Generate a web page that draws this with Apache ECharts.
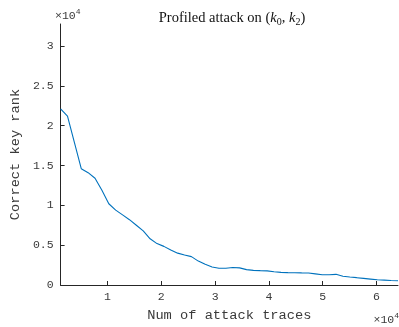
<!DOCTYPE html>
<html>
<head>
<meta charset="utf-8">
<script src="https://cdn.jsdelivr.net/npm/echarts@6/dist/echarts.min.js"></script>
<style>
  html, body { margin: 0; padding: 0; background: #fff; }
  #chart { width: 399px; height: 327px; }
</style>
</head>
<body>
<div id="chart"></div>
<script>
// number of attack traces (step 1280)
const traces = [
  1280, 2560, 3840, 5120, 6400, 7680, 8960, 10240, 11520, 12800,
  14080, 15360, 16640, 17920, 19200, 20480, 21760, 23040, 24320, 25600,
  26880, 28160, 29440, 30720, 32000, 33280, 34560, 35840, 37120, 38400,
  39680, 40960, 42240, 43520, 44800, 46080, 47360, 48640, 49920, 51200,
  52480, 53760, 55040, 56320, 57600, 58880, 60160, 61440, 62720, 64000
]
// correct key rank
const keyRank = [
  22100, 21200, 17900, 14600, 14100, 13400, 11900, 10200, 9400, 8800,
  8200, 7500, 6800, 5800, 5200, 4850, 4400, 4000, 3770, 3560,
  3000, 2600, 2270, 2110, 2100, 2200, 2150, 1930, 1840, 1800,
  1770, 1670, 1580, 1550, 1540, 1520, 1510, 1400, 1290, 1290,
  1340, 1100, 1000, 920, 830, 740, 650, 610, 560, 540
]
const xTicks = [10000, 20000, 30000, 40000, 50000, 60000]
const yTicks = [0, 5000, 10000, 15000, 20000, 25000, 30000]

const axisColor = '#262626'
const textColor = '#3a3a3a'
const mono = '"Liberation Mono", "DejaVu Sans Mono", monospace'
const serif = '"Liberation Serif", "DejaVu Serif", serif'

const chart = echarts.init(document.getElementById('chart'), null, { renderer: 'canvas' })

const option = {
  animation: false,
  backgroundColor: '#ffffff',
  title: {
    text: 'Profiled attack on ({k|k}{sub|0}, {k|k}{sub|2})',
    left: 227,
    top: 5,
    textAlign: 'center',
    textStyle: {
      fontFamily: serif,
      fontSize: 14.5,
      fontWeight: 'normal',
      color: '#111',
      rich: {
        k: { fontFamily: serif, fontSize: 14.5, fontStyle: 'italic', color: '#111' },
        sub: { fontFamily: serif, fontSize: 10, color: '#111', padding: [7, 0, 0, 0] }
      }
    }
  },
  grid: {
    left: 54,
    right: 1,
    top: 24,
    bottom: 36,
    containLabel: false
  },
  xAxis: {
    type: 'value',
    min: 1280,
    max: 64000,
    name: 'Num of attack traces',
    nameLocation: 'middle',
    nameGap: 23,
    nameTextStyle: { fontFamily: mono, fontSize: 13.7, color: textColor },
    axisLine: { lineStyle: { color: axisColor, width: 1 } },
    axisTick: { inside: true, length: 4, customValues: xTicks, lineStyle: { color: axisColor } },
    axisLabel: {
      customValues: xTicks,
      fontFamily: mono, fontSize: 11.5, color: textColor, margin: 6,
      formatter: v => String(v / 10000)
    },
    splitLine: { show: false }
  },
  yAxis: {
    type: 'value',
    min: 0,
    max: 32768,
    name: 'Correct key rank',
    nameLocation: 'middle',
    nameGap: 36,
    nameTextStyle: { fontFamily: mono, fontSize: 13.7, color: textColor },
    axisLine: { show: true, lineStyle: { color: axisColor, width: 1 } },
    axisTick: { show: true, inside: true, length: 4, customValues: yTicks, lineStyle: { color: axisColor } },
    axisLabel: {
      customValues: yTicks,
      fontFamily: mono, fontSize: 11.5, color: textColor, margin: 7,
      formatter: v => String(v / 10000)
    },
    splitLine: { show: false }
  },
  graphic: [
    {
      type: 'text', left: 55, top: 8,
      style: {
        text: '×10{sup|4}',
        fontFamily: mono, fontSize: 11.5, fill: textColor,
        rich: { sup: { fontFamily: mono, fontSize: 8, fill: textColor, padding: [0, 0, 7, 0] } }
      }
    },
    {
      type: 'text', right: 0, top: 312,
      style: {
        text: '×10{sup|4}',
        fontFamily: mono, fontSize: 11.5, fill: textColor,
        rich: { sup: { fontFamily: mono, fontSize: 8, fill: textColor, padding: [0, 0, 7, 0] } }
      }
    }
  ],
  series: [{
    type: 'line',
    data: traces.map((t, i) => [t, keyRank[i]]),
    showSymbol: false,
    lineStyle: { color: '#0072BD', width: 1.1 },
    clip: true
  }]
}

chart.setOption(option)
</script>
</body>
</html>
